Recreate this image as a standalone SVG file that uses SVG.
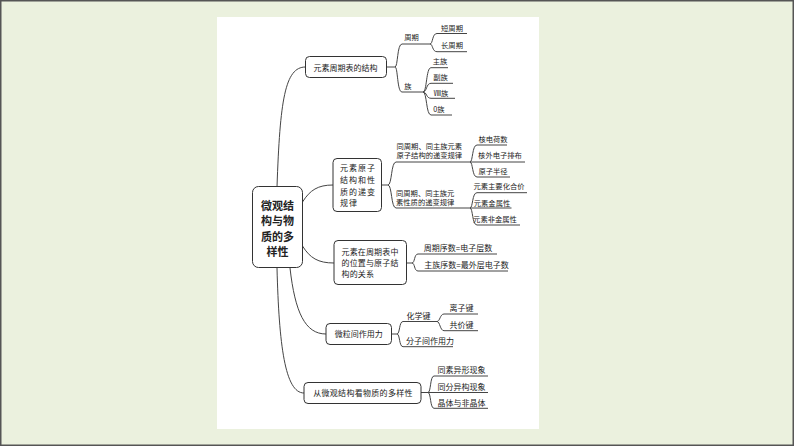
<svg xmlns="http://www.w3.org/2000/svg" width="794" height="446" viewBox="0 0 794 446">
<style>
.box{fill:#fff;stroke:#333;stroke-width:1}
.ln{fill:none;stroke:#444;stroke-width:1}
text{font-family:"Noto Sans CJK SC","Liberation Serif",serif;fill:#222}
.t8{font-size:8px}
.t7{font-size:7.3px}
.c{text-anchor:middle}
.root{font-size:11px;font-weight:bold;text-anchor:middle}
</style>
<rect x="0" y="0" width="794" height="446" fill="#ebf1de"/>
<rect x="0.75" y="0.75" width="792.5" height="444.5" fill="none" stroke="#555" stroke-width="1.5"/>
<rect x="217" y="17" width="322" height="412" fill="#fff"/>

<g id="connectors">
  <path class="ln" d="M277,187 C280,100 285,67 305.5,67"/>
  <path class="ln" d="M302.5,202 C310,190 318,185 333,185"/>
  <path class="ln" d="M302.5,246 C310,258 318,263 334,263"/>
  <path class="ln" d="M290,268 C295,312 305,334 326,334"/>
  <path class="ln" d="M277,268 C279,345 285,393 304,393"/>
  <!-- node1 -->
  <path class="ln" d="M386.5,67 H395"/>
  <path class="ln" d="M395,67 C398,67 397,44 402,44 H430"/>
  <path class="ln" d="M395,67 C398,67 397,92 402,92 H423"/>
  <path class="ln" d="M430,44 C433,44 432,33.5 437,33.5 H467"/>
  <path class="ln" d="M430,44 C433,44 432,51.7 437,51.7 H467"/>
  <path class="ln" d="M423,92 C427,92 426,67.7 431,67.7 H448"/>
  <path class="ln" d="M423,92 C427,92 426,83.3 431,83.3 H453"/>
  <path class="ln" d="M423,92 C427,92 426,98.3 431,98.3 H455"/>
  <path class="ln" d="M423,92 C427,92 426,115 431,115 H452"/>
  <!-- node2 -->
  <path class="ln" d="M381.5,185 H388"/>
  <path class="ln" d="M388,185 C392,185 391,162 396,162 H525"/>
  <path class="ln" d="M388,185 C392,185 391,208 396,208 H511.5"/>
  <path class="ln" d="M470,162 C473,162 472,145 477,145 H507"/>
  <path class="ln" d="M470,162 C473,162 472,177 477,177 H510"/>
  <path class="ln" d="M470,208 C473,208 472,192.7 477,192.7 H527"/>
  <path class="ln" d="M470,208 C473,208 472,225 477,225 H520"/>
  <!-- node3 -->
  <path class="ln" d="M406.5,263 H412"/>
  <path class="ln" d="M412,263 C415,263 414,254 418,254 H497"/>
  <path class="ln" d="M412,263 C415,263 414,271 418,271 H508"/>
  <!-- node4 -->
  <path class="ln" d="M391.5,334 H397"/>
  <path class="ln" d="M397,334 C400,334 399,321.5 403,321.5 H437"/>
  <path class="ln" d="M397,334 C400,334 399,346.7 403,346.7 H453"/>
  <path class="ln" d="M437,321.5 C440,321.5 440,314 444,314 H478"/>
  <path class="ln" d="M437,321.5 C440,321.5 440,330.7 444,330.7 H478"/>
  <!-- node5 -->
  <path class="ln" d="M421,392.5 H488"/>
  <path class="ln" d="M428,392.5 C431,392.5 430,376 434,376 H488"/>
  <path class="ln" d="M428,392.5 C431,392.5 430,408.3 434,408.3 H488"/>
</g>

<g id="root">
  <rect class="box" x="252.5" y="186.5" width="50" height="81" rx="6"/>
  <text class="root" x="277.5" y="209.5">微观结</text>
  <text class="root" x="277.5" y="225">构与物</text>
  <text class="root" x="277.5" y="240.5">质的多</text>
  <text class="root" x="277.5" y="256">样性</text>
</g>

<g id="n1">
  <rect class="box" x="305.5" y="56.5" width="81" height="21" rx="4"/>
  <text class="t8 c" x="345.5" y="70.5">元素周期表的结构</text>
</g>
<g id="n1a"><text class="t7 c" x="411.5" y="39.5">周期</text></g>
<g id="n1b"><text class="t7 c" x="408" y="89">族</text></g>
<g id="n1a1"><text class="t7 c" x="452" y="31">短周期</text></g>
<g id="n1a2"><text class="t7 c" x="452" y="48">长周期</text></g>
<g id="n1b1"><text class="t7 c" x="440" y="64">主族</text></g>
<g id="n1b2"><text class="t7 c" x="440.5" y="79.5">副族</text></g>
<g id="n1b3"><text class="t7 c" x="441" y="95.5">Ⅷ族</text></g>
<g id="n1b4"><text class="t7 c" x="439" y="111.5">0族</text></g>

<g id="n2">
  <rect class="box" x="333" y="158.5" width="48.5" height="53" rx="4"/>
  <text class="t8" x="340" y="171.3" letter-spacing="1">元素原子</text>
  <text class="t8" x="340" y="183" letter-spacing="1">结构和性</text>
  <text class="t8" x="340" y="194.7" letter-spacing="1">质的递变</text>
  <text class="t8" x="340" y="206.3" letter-spacing="1">规律</text>
</g>
<g id="n2a">
  <text class="t7" x="396.5" y="148.8">同周期、同主族元素</text>
  <text class="t7" x="396.5" y="157.8">原子结构的递变规律</text>
</g>
<g id="n2b">
  <text class="t7" x="396" y="195.5">同周期、同主族元</text>
  <text class="t7" x="396" y="204.5">素性质的递变规律</text>
</g>
<g id="n2a1"><text class="t7 c" x="493" y="142">核电荷数</text></g>
<g id="n2a2"><text class="t7 c" x="500" y="158">核外电子排布</text></g>
<g id="n2a3"><text class="t7 c" x="493" y="173.5">原子半径</text></g>
<g id="n2b1"><text class="t7 c" x="499" y="189">元素主要化合价</text></g>
<g id="n2b2"><text class="t7 c" x="492" y="205.5">元素金属性</text></g>
<g id="n2b3"><text class="t7 c" x="495" y="222">元素非金属性</text></g>

<g id="n3">
  <rect class="box" x="334" y="240.5" width="72.5" height="44" rx="4"/>
  <text class="t8" x="341.5" y="254.7" letter-spacing="0.15">元素在周期表中</text>
  <text class="t8" x="341.5" y="265.7" letter-spacing="0.15">的位置与原子结</text>
  <text class="t8" x="341.5" y="276.7" letter-spacing="0.15">构的关系</text>
</g>
<g id="n3a"><text class="t8 c" x="458" y="251">周期序数=电子层数</text></g>
<g id="n3b"><text class="t8 c" x="466.5" y="267.5">主族序数=最外层电子数</text></g>

<g id="n4">
  <rect class="box" x="326" y="323.5" width="65.5" height="21" rx="4"/>
  <text class="t8 c" x="358.8" y="337.3">微粒间作用力</text>
</g>
<g id="n4a"><text class="t8 c" x="418.5" y="319">化学键</text></g>
<g id="n4b"><text class="t8 c" x="430" y="343.5">分子间作用力</text></g>
<g id="n4a1"><text class="t8 c" x="461.5" y="310.5">离子键</text></g>
<g id="n4a2"><text class="t8 c" x="461.5" y="327.8">共价键</text></g>

<g id="n5">
  <rect class="box" x="304" y="382.5" width="117" height="21" rx="4"/>
  <text class="t8 c" x="363" y="395.5" letter-spacing="0.3">从微观结构看物质的多样性</text>
</g>
<g id="n5a"><text class="t8 c" x="461.5" y="373">同素异形现象</text></g>
<g id="n5b"><text class="t8 c" x="461.5" y="389.5">同分异构现象</text></g>
<g id="n5c"><text class="t8 c" x="461.5" y="406">晶体与非晶体</text></g>
</svg>
